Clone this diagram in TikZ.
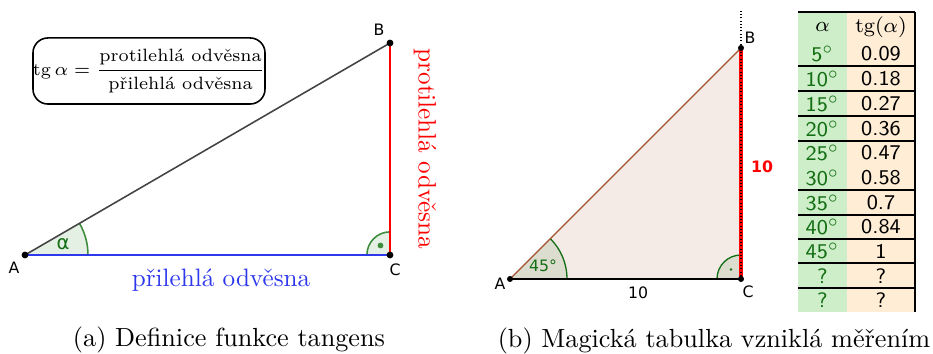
\documentclass[tikz,border=0pt]{standalone}
\usepackage{amsmath}
\usepackage{fontspec}
\newfontfamily\ggbfont{DejaVu Sans}
\usetikzlibrary{angles}

\definecolor{hypgray}{RGB}{68,68,68}
\definecolor{adjblue}{RGB}{45,55,235}
\definecolor{angreen}{RGB}{60,140,60}
\definecolor{angfill}{RGB}{229,240,229}
\definecolor{labgreen}{RGB}{20,110,20}
\definecolor{hypbrown}{RGB}{160,82,45}
\definecolor{trifill}{RGB}{244,235,230}
\definecolor{angfillb}{RGB}{220,220,207}
\definecolor{tabgreen}{RGB}{205,238,200}
\definecolor{tabbeige}{RGB}{255,237,214}

\tikzset{
  ggblabel/.style={font=\ggbfont\fontsize{6}{7}\selectfont, inner sep=0pt},
  ggbdot/.style={circle, fill=black, inner sep=0pt, minimum size=#1},
  ggbdot/.default=2.6pt,
  tabcell/.style={font=\sffamily\footnotesize, inner sep=0pt},
}

\begin{document}
\begin{tikzpicture}[x=0.01342cm, y=-0.01342cm]
  \useasboundingbox (0,0) rectangle (933,354);
  % (a) triangle with the definition
  \coordinate (A1) at (25,255);
  \coordinate (B1) at (390,43);
  \coordinate (C1) at (390,255);
  \pic[draw=angreen, fill=angfill, line width=0.6pt, angle radius=0.845cm] {angle=C1--A1--B1};
  \pic[draw=angreen, fill=angfill, line width=0.6pt, angle radius=0.31cm] {angle=B1--C1--A1};
  \node[ggbdot=2.2pt, fill=angreen] (r1) at (380.5,245.5) {};
  \draw[hypgray, line width=0.6pt] (A1) -- (B1);
  \draw[adjblue, line width=0.8pt] (A1) -- (C1);
  \draw[red, line width=0.8pt] (C1) -- (B1);
  \node[ggbdot] (pA1) at (A1) {};
  \node[ggbdot] (pB1) at (B1) {};
  \node[ggbdot] (pC1) at (C1) {};
  \node[ggblabel] (lA1) at (14,268) {A};
  \node[ggblabel] (lB1) at (379,30) {B};
  \node[ggblabel] (lC1) at (395,270) {C};
  \node[ggblabel, text=labgreen, font=\ggbfont\fontsize{7.5}{8}\selectfont] (alpha1) at (63,244) {α};
  \node[draw, rounded corners=0.2cm, line width=0.6pt, minimum width=3.06cm,
        minimum height=0.886cm, inner sep=0pt, font=\fontsize{6.8}{8}\selectfont] (formula) at (149,71)
    {$\displaystyle\mathrm{tg}\,\alpha = \frac{\text{protilehlá odvěsna}}{\text{přilehlá odvěsna}}$};
  \node[text=adjblue, inner sep=0pt, font=\fontsize{9.6}{11}\selectfont] (adj1) at (221,280) {přilehlá odvěsna};
  \node[text=red, inner sep=0pt, rotate=-90, font=\fontsize{9.6}{11}\selectfont] (opp1) at (425,149) {protilehlá odvěsna};
  \node[anchor=base, inner sep=0pt] (capA) at (229,346.5) {(a) Definice funkce tangens};

  % (b) triangle with 45 degrees
  \coordinate (A2) at (510,279);
  \coordinate (B2) at (741,48);
  \coordinate (C2) at (741,279);
  \coordinate (T2) at (741,9);
  \fill[trifill] (A2) -- (B2) -- (C2) -- cycle;
  \pic[draw=labgreen, fill=angfillb, line width=0.5pt, angle radius=0.765cm] {angle=C2--A2--B2};
  \pic[draw=labgreen, fill=angfillb, line width=0.5pt, angle radius=0.322cm] {angle=B2--C2--A2};
  \node[ggbdot=1.1pt, fill=labgreen] (r2) at (731,269.5) {};
  \draw[hypbrown, line width=0.45pt] (A2) -- (B2);
  \draw[line width=1.1pt] (A2) -- (C2);
  \draw[red, line width=1.2pt] (C2) -- (B2);
  \draw[line width=0.45pt, dash pattern=on 0.35pt off 0.9pt] (C2) -- (B2);
  \draw[line width=0.5pt, dash pattern=on 0.4pt off 0.86pt] (B2) -- (T2);
  \node[ggbdot=2.3pt] (pA2) at (A2) {};
  \node[ggbdot=2.3pt] (pB2) at (B2) {};
  \node[ggbdot=2.3pt] (pC2) at (C2) {};
  \node[ggblabel] (lA2) at (500,284) {A};
  \node[ggblabel] (lB2) at (750,38) {B};
  \node[ggblabel] (lC2) at (748,292) {C};
  \node[ggblabel, text=labgreen] (ang2) at (543,266) {45°};
  \node[ggblabel] (base2) at (638,293) {10};
  \node[ggblabel, text=red, font=\ggbfont\bfseries\fontsize{6}{7}\selectfont] (side2) at (762,167) {10};
  \node[anchor=base, inner sep=0pt] (capB) at (714,348) {(b) Magická tabulka vzniklá měřením};

  % table of tangents
  \fill[tabgreen] (798,12) rectangle (847,312);
  \fill[tabbeige] (847,12) rectangle (915,312);
  \draw[line width=0.5pt] (798,12) -- (915,12);
  \draw[line width=0.5pt] (915,12) -- (915,312);
  \foreach \y in {66,91,116,141,190,215,239,263,288}
    \draw[line width=0.5pt] (798,\y) -- (915,\y);
  \node[tabcell] (hA) at (822.5,27) {$\alpha$};
  \node[tabcell] (hT) at (881,27) {$\mathrm{tg}(\alpha)$};
  \foreach \y/\a/\t [count=\i] in {54/5/0.09, 79/10/0.18, 104/15/0.27, 129/20/0.36,
      153/25/0.47, 178/30/0.58, 203/35/0.7, 227/40/0.84, 251/45/1} {
    \node[tabcell, text=labgreen] (a\i) at (822.5,\y) {\a$^\circ$};
    \node[tabcell] (t\i) at (881,\y) {\t};
  }
  \foreach \y [count=\i from 10] in {276,300} {
    \node[tabcell, text=labgreen] (a\i) at (822.5,\y) {?};
    \node[tabcell] (t\i) at (881,\y) {?};
  }
\end{tikzpicture}
\end{document}
